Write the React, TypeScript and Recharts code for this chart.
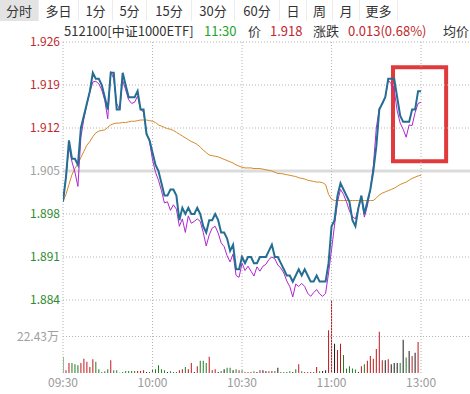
import {
  ComposedChart,
  Line,
  Bar,
  Cell,
  XAxis,
  YAxis,
  ReferenceLine,
  ReferenceArea,
} from "recharts";

const FONT = '"Noto Sans CJK SC", "Noto Sans", sans-serif';
const RED = "#c0282d";
const GREEN = "#2e8a2e";
const GRAY = "#a0a0a0";
const GRID = "#b4b4b4";

// minute index 0 = 09:30, 120 = 11:30 / 13:00
const TIME_TICKS = [0, 30, 60, 90, 120];
const TIME_LABELS = ["09:30", "10:00", "10:30", "11:00", "13:00"];

const PRICE_TICKS = [1.926, 1.919, 1.912, 1.905, 1.898, 1.891, 1.884];
const PREV_CLOSE = 1.905;
const VOL_TICK = 22.43; // 万

const TABS = ["分时", "多日", "1分", "5分", "15分", "30分", "60分", "日", "周", "月", "更多"];
const TAB_EDGES = [0, 39, 79, 113, 147, 192, 235, 280, 307, 333, 360, 398];

// last price
const PRICE = [
  1.900, 1.904, 1.910, 1.907, 1.907, 1.906, 1.912, 1.914, 1.916, 1.918,
  1.921, 1.920, 1.920, 1.919, 1.917, 1.915, 1.921, 1.921, 1.915, 1.915,
  1.921, 1.919, 1.917, 1.917, 1.917, 1.918, 1.915, 1.915, 1.911, 1.910,
  1.908, 1.906, 1.905, 1.903, 1.901, 1.901, 1.902, 1.902, 1.901, 1.897,
  1.899, 1.898, 1.899, 1.898, 1.898, 1.899, 1.898, 1.896, 1.895, 1.897,
  1.897, 1.898, 1.897, 1.895, 1.895, 1.894, 1.892, 1.893, 1.889, 1.889,
  1.891, 1.890, 1.891, 1.891, 1.890, 1.890, 1.891, 1.891, 1.891, 1.892,
  1.893, 1.891, 1.891, 1.890, 1.889, 1.888, 1.888, 1.887, 1.888, 1.889,
  1.888, 1.889, 1.888, 1.887, 1.887, 1.888, 1.887, 1.887, 1.887, 1.890,
  1.896, 1.897, 1.901, 1.903, 1.902, 1.901, 1.900, 1.897, 1.896, 1.899,
  1.901, 1.898, 1.900, 1.902, 1.905, 1.909, 1.915, 1.916, 1.917, 1.920,
  1.920, 1.920, 1.917, 1.914, 1.913, 1.913, 1.913, 1.915, 1.915, 1.918,
  1.918,
];

// estimated net value (IOPV)
const IOPV = [
  1.9003, 1.904, 1.909, 1.9065, 1.9048, 1.9025, 1.9105, 1.9135, 1.9158, 1.9178,
  1.9195, 1.9196, 1.9192, 1.9182, 1.9165, 1.9135, 1.9212, 1.92, 1.916, 1.915,
  1.9198, 1.9182, 1.9166, 1.916, 1.9162, 1.9172, 1.915, 1.9146, 1.9112, 1.9098,
  1.9068, 1.9048, 1.9035, 1.9018, 1.8998, 1.9, 1.8986, 1.8995, 1.8988, 1.896,
  1.8972, 1.895, 1.8977, 1.8965, 1.8968, 1.8972, 1.8968, 1.895, 1.8928, 1.8946,
  1.8957, 1.896, 1.8949, 1.8933, 1.8927, 1.8912, 1.8902, 1.8915, 1.888, 1.8877,
  1.89, 1.8888, 1.8895, 1.8887, 1.8879, 1.8894, 1.8887, 1.8895, 1.8898, 1.8906,
  1.891, 1.8907, 1.8897, 1.8892, 1.8884, 1.8871, 1.8862, 1.8845, 1.8866, 1.8862,
  1.8867, 1.8862, 1.8851, 1.8846, 1.8852, 1.8857, 1.885, 1.8846, 1.8851, 1.8884,
  1.8922, 1.8962, 1.9, 1.902, 1.9012, 1.9, 1.8985, 1.8976, 1.8972, 1.899,
  1.9006, 1.8975, 1.8993, 1.902, 1.9058, 1.912, 1.9152, 1.9158, 1.917, 1.9198,
  1.9192, 1.9182, 1.9148, 1.9128, 1.9118, 1.9105, 1.9125, 1.9124, 1.9145, 1.916,
  1.9162,
];

// average price
const AVG = [
  1.9001, 1.9012, 1.9028, 1.9044, 1.9054, 1.9062, 1.9072, 1.9082, 1.9092, 1.9098,
  1.9106, 1.9112, 1.9115, 1.9116, 1.9117, 1.9121, 1.9125, 1.9127, 1.9128, 1.9128,
  1.9129, 1.9129, 1.913, 1.9131, 1.9131, 1.9132, 1.9133, 1.9133, 1.9133, 1.9132,
  1.9131, 1.9129, 1.9125, 1.9123, 1.9121, 1.9119, 1.9118, 1.9116, 1.9113, 1.911,
  1.9107, 1.9104, 1.9101, 1.9098, 1.9096, 1.9093, 1.9089, 1.9084, 1.908, 1.9076,
  1.9075, 1.9074, 1.9073, 1.9071, 1.9069, 1.9067, 1.9065, 1.9063, 1.906, 1.9058,
  1.9056, 1.9055, 1.9055, 1.9055, 1.9054, 1.9054, 1.9054, 1.9053, 1.9052, 1.9051,
  1.905, 1.9048, 1.9046, 1.9046, 1.9045, 1.9044, 1.9043, 1.9042, 1.9041, 1.9039,
  1.9038, 1.9037, 1.9035, 1.9034, 1.9033, 1.9032, 1.9032, 1.9031, 1.9028, 1.9012,
  1.9004, 1.9002, 1.9002, 1.9002, 1.9002, 1.9002, 1.9002, 1.9002, 1.9002, 1.9002,
  1.9002, 1.9002, 1.9002, 1.9002, 1.9002, 1.9006, 1.9011, 1.9014, 1.9016, 1.9018,
  1.902, 1.9022, 1.9025, 1.9028, 1.903, 1.9032, 1.9035, 1.9038, 1.904, 1.9042,
  1.9043,
];

// volume per minute, 万
const VOLUME = [
  10.0, 1.7, 6.2, 6.2, 5.4, 4.8, 6.2, 8.7, 6.9, 3.7,
  8.5, 6.9, 2.3, 0.6, 1.1, 2.3, 7.9, 1.7, 1.7, 0.2,
  0.6, 1.2, 1.2, 1.2, 1.2, 1.2, 1.2, 1.7, 0.6, 0.6,
  2.3, 2.3, 4.8, 2.3, 1.7, 0.6, 1.1, 0.6, 0.6, 1.7,
  2.3, 3.7, 2.3, 6.2, 0.6, 4.2, 7.5, 7.5, 6.2, 10.0,
  1.7, 2.3, 0.6, 1.2, 2.3, 3.3, 3.3, 1.7, 2.3, 1.7,
  1.7, 0.6, 0.6, 0.6, 1.0, 0.6, 1.7, 1.7, 1.0, 1.0,
  1.2, 1.2, 3.3, 0.6, 0.6, 0.6, 1.0, 0.6, 2.3, 5.4,
  1.0, 0.6, 0.6, 0.6, 0.6, 3.7, 1.0, 1.2, 1.7, 26.2,
  44.9, 17.9, 14.1, 17.9, 11.0, 2.7, 4.2, 2.7, 2.1, 0.6,
  4.2, 5.4, 7.5, 10.4, 8.7, 14.8, 25.4, 7.9, 7.9, 8.5,
  5.4, 6.2, 6.2, 6.2, 20.4, 9.5, 13.5, 10.4, 12.5, 19.1,
  0,
];

// 1 = up, -1 = down, 0 = unchanged
const VOL_DIR = [
  -1, 1, 1, -1, -1, -1, 1, 1, 1, 1,
  1, -1, -1, -1, -1, -1, 1, -1, -1, 0,
  -1, -1, -1, -1, -1, 1, 1, 1, 0, -1,
  -1, -1, -1, -1, -1, 0, -1, -1, -1, 1,
  1, -1, 1, 1, 0, 1, -1, -1, -1, 1,
  1, 1, 0, -1, 0, -1, -1, 0, -1, 1,
  -1, 1, 1, 1, -1, 0, 1, 0, 0, 1,
  1, -1, 0, -1, -1, -1, -1, 0, -1, 1,
  -1, 1, 1, 1, 1, 1, -1, 0, 0, 1,
  1, 0, 1, 1, -1, -1, -1, -1, -1, 0,
  1, -1, 1, 1, 1, 1, 1, 1, 0, 1,
  0, 0, 0, -1, 0, -1, 0, 1, 0, 1,
  0,
];

// red box drawn over the chart (minute / price)
const BOX = { x1: 110.6, x2: 128.4, y1: 1.9066, y2: 1.9219 };

const data = PRICE.map((p, i) => ({
  t: i,
  price: p,
  iopv: IOPV[i],
  avg: AVG[i],
  vol: VOLUME[i],
}));

const dirColor = (d: number) => (d > 0 ? "#c0161c" : d < 0 ? "#247a24" : "#1a1a1a");

function PriceTick({ x, y, payload }: any) {
  const v = payload.value as number;
  const color = v > PREV_CLOSE + 1e-9 ? RED : v < PREV_CLOSE - 1e-9 ? GREEN : GRAY;
  return (
    <text x={x} y={y} dy="0.355em" textAnchor="end" fill={color} fontSize={12} fontFamily={FONT}>
      {v.toFixed(3)}
    </text>
  );
}

function Header() {
  return (
    <>
      {TABS.map((t, i) => (
        <div
          key={t}
          style={{
            position: "absolute",
            left: TAB_EDGES[i],
            top: 0,
            width: TAB_EDGES[i + 1] - TAB_EDGES[i],
            height: 21,
            lineHeight: "21px",
            textAlign: "center",
            fontSize: 13,
            color: "#333",
            background: i === 0 ? "#e3e3e3" : "transparent",
            borderRight: "1px solid #ececec",
            boxSizing: "border-box",
          }}
        >
          {t}
        </div>
      ))}
      {[
        { text: "512100[中证1000ETF]", left: 64, color: "#333" },
        { text: "11:30", left: 204, color: "#22a52a" },
        { text: "价", left: 248, color: "#333" },
        { text: "1.918", left: 270, color: RED },
        { text: "涨跌", left: 313, color: "#333" },
        { text: "0.013(0.68%)", left: 348, color: RED },
        { text: "均价", left: 443, color: "#333" },
      ].map((s) => (
        <div
          key={s.text}
          style={{
            position: "absolute",
            left: s.left,
            top: 22,
            height: 18,
            lineHeight: "18px",
            fontSize: 13,
            color: s.color,
            whiteSpace: "nowrap",
          }}
        >
          {s.text}
        </div>
      ))}
    </>
  );
}

export default function App() {
  return (
    <div
      style={{
        position: "absolute",
        left: 0,
        top: 0,
        width: 470,
        height: 394,
        overflow: "hidden",
        background: "#fff",
        fontFamily: FONT,
      }}
    >
      <Header />
      <div style={{ position: "absolute", left: 0, top: 0 }}>
        <ComposedChart
          width={470}
          height={394}
          data={data}
          margin={{ top: 42, right: 0, bottom: 0, left: 0 }}
        >
          <XAxis
            dataKey="t"
            type="number"
            domain={[0, 136.4]}
            allowDataOverflow
            ticks={TIME_TICKS}
            tickFormatter={(v: number) => TIME_LABELS[TIME_TICKS.indexOf(v)] ?? ""}
            axisLine={false}
            tickLine={false}
            tickSize={0}
            tickMargin={5}
            height={21}
            interval={0}
            tick={{ fill: "#9a9a9a", fontSize: 12, fontFamily: FONT }}
          />
          <YAxis
            yAxisId="p"
            width={63}
            domain={[1.87212, 1.926]}
            allowDataOverflow
            ticks={PRICE_TICKS}
            interval={0}
            axisLine={false}
            tickLine={false}
            tickSize={0}
            tickMargin={3}
            tick={<PriceTick />}
          />
          <YAxis yAxisId="v" hide domain={[0, 203.4]} allowDataOverflow />

          {PRICE_TICKS.filter((p) => p !== PREV_CLOSE).map((p) => (
            <ReferenceLine key={p} yAxisId="p" y={p} stroke={GRID} strokeDasharray="1 2" />
          ))}
          <ReferenceLine yAxisId="p" y={PREV_CLOSE} stroke="#dcdcdc" strokeWidth={3} />
          <ReferenceLine
            yAxisId="v"
            y={VOL_TICK}
            stroke={GRID}
            strokeDasharray="1 2"
            label={{ value: `${VOL_TICK}万`, position: "left", offset: 4, fill: GRAY, fontSize: 12, fontFamily: FONT }}
          />
          {TIME_TICKS.map((t) => (
            <ReferenceLine key={t} yAxisId="p" x={t} stroke={GRID} strokeDasharray="1 2" />
          ))}

          <Bar yAxisId="v" dataKey="vol" barSize={1} isAnimationActive={false}>
            {VOL_DIR.map((d, i) => (
              <Cell key={i} fill={dirColor(d)} />
            ))}
          </Bar>
          <Line
            yAxisId="p"
            dataKey="avg"
            type="linear"
            stroke="#d4892a"
            strokeWidth={1}
            dot={false}
            isAnimationActive={false}
          />
          <Line
            yAxisId="p"
            dataKey="iopv"
            type="linear"
            stroke="#b026d0"
            strokeWidth={1}
            dot={false}
            isAnimationActive={false}
          />
          <Line
            yAxisId="p"
            dataKey="price"
            type="linear"
            stroke="#236e92"
            strokeWidth={2}
            dot={false}
            isAnimationActive={false}
          />
          <ReferenceArea
            yAxisId="p"
            x1={BOX.x1}
            x2={BOX.x2}
            y1={BOX.y1}
            y2={BOX.y2}
            fill="none"
            fillOpacity={0}
            stroke="#e03a3c"
            strokeWidth={4}
          />
        </ComposedChart>
      </div>
    </div>
  );
}
